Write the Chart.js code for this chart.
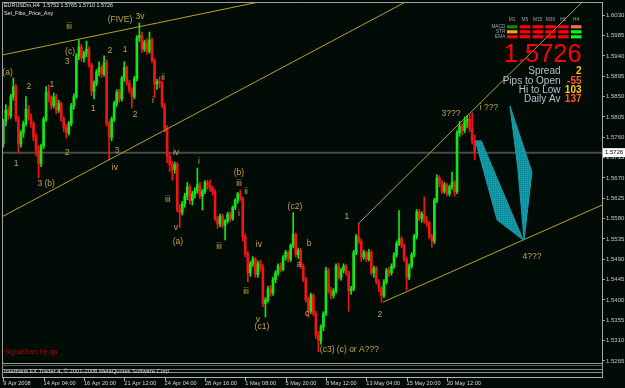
<!DOCTYPE html>
<html><head><meta charset="utf-8">
<script src="https://cdn.jsdelivr.net/npm/chart.js@4.4.1/dist/chart.umd.min.js"></script>
<style>html,body{margin:0;padding:0;background:#010b05;}canvas{display:block;}</style>
</head><body>
<canvas id="c" width="625" height="388"></canvas>
<script>
// ---- H4 candles, EURUSDm ----
const opens = [
1.5745,1.5795,1.5820,1.5808,1.5850,1.5872,1.5800,1.5745,1.5770,1.5790,
1.5822,1.5805,1.5790,1.5760,1.5730,1.5702,1.5740,1.5800,1.5860,1.5845,
1.5830,1.5850,1.5820,1.5835,1.5800,1.5780,1.5770,1.5790,1.5830,1.5850,
1.5940,1.5960,1.5935,1.5945,1.5955,1.5920,1.5862,1.5880,1.5905,1.5915,
1.5900,1.5925,1.5790,1.5760,1.5800,1.5835,1.5860,1.5845,1.5890,1.5915,
1.5880,1.5865,1.5850,1.5890,1.5980,1.5985,1.5955,1.5970,1.5950,1.5975,
1.5930,1.5878,1.5884,1.5880,1.5830,1.5780,1.5718,1.5700,1.5688,1.5700,
1.5600,1.5594,1.5612,1.5630,1.5650,1.5620,1.5635,1.5642,1.5655,1.5630,
1.5640,1.5660,1.5652,1.5648,1.5640,1.5580,1.5568,1.5585,1.5565,1.5575,
1.5590,1.5580,1.5605,1.5620,1.5635,1.5625,1.5540,1.5502,1.5460,1.5480,
1.5490,1.5456,1.5480,1.5472,1.5392,1.5400,1.5425,1.5415,1.5445,1.5460,
1.5475,1.5468,1.5495,1.5505,1.5490,1.5520,1.5545,1.5500,1.5510,1.5475,
1.5445,1.5400,1.5375,1.5410,1.5370,1.5322,1.5310,1.5340,1.5370,1.5465,
1.5420,1.5410,1.5420,1.5475,1.5450,1.5465,1.5475,1.5460,1.5420,1.5425,
1.5505,1.5540,1.5530,1.5495,1.5505,1.5490,1.5505,1.5460,1.5470,1.5440,
1.5425,1.5410,1.5440,1.5465,1.5460,1.5475,1.5500,1.5525,1.5535,1.5520,
1.5490,1.5450,1.5475,1.5500,1.5540,1.5595,1.5580,1.5590,1.5575,1.5570,
1.5540,1.5530,1.5620,1.5670,1.5660,1.5640,1.5655,1.5635,1.5650,1.5660,
1.5640,1.5770,1.5785,1.5775,1.5795,1.5800,1.5778,1.5752];
const highs = [
1.5800,1.5832,1.5828,1.5855,1.5891,1.5878,1.5806,1.5775,1.5796,1.5850,
1.5830,1.5812,1.5795,1.5768,1.5742,1.5745,1.5805,1.5872,1.5876,1.5852,
1.5858,1.5855,1.5842,1.5838,1.5806,1.5788,1.5795,1.5835,1.5856,1.5945,
1.5975,1.5966,1.5950,1.5973,1.5960,1.5924,1.5885,1.5910,1.5927,1.5920,
1.5940,1.5932,1.5796,1.5805,1.5840,1.5865,1.5866,1.5895,1.5927,1.5918,
1.5886,1.5870,1.5895,1.5985,1.6013,1.5992,1.5975,1.5978,1.5993,1.5980,
1.5934,1.5888,1.5894,1.5884,1.5835,1.5786,1.5724,1.5706,1.5705,1.5704,
1.5612,1.5618,1.5636,1.5660,1.5655,1.5640,1.5648,1.5692,1.5660,1.5645,
1.5664,1.5665,1.5666,1.5652,1.5644,1.5585,1.5590,1.5590,1.5578,1.5594,
1.5595,1.5608,1.5624,1.5638,1.5643,1.5628,1.5546,1.5508,1.5485,1.5496,
1.5494,1.5486,1.5488,1.5478,1.5405,1.5430,1.5432,1.5450,1.5465,1.5480,
1.5482,1.5498,1.5510,1.5508,1.5524,1.5593,1.5548,1.5515,1.5514,1.5480,
1.5450,1.5406,1.5415,1.5414,1.5375,1.5330,1.5345,1.5374,1.5472,1.5470,
1.5428,1.5425,1.5480,1.5482,1.5470,1.5480,1.5478,1.5464,1.5430,1.5510,
1.5545,1.5568,1.5535,1.5510,1.5508,1.5512,1.5510,1.5475,1.5474,1.5445,
1.5430,1.5445,1.5470,1.5472,1.5480,1.5505,1.5530,1.5598,1.5540,1.5524,
1.5495,1.5480,1.5505,1.5545,1.5600,1.5600,1.5595,1.5628,1.5585,1.5574,
1.5545,1.5625,1.5677,1.5675,1.5664,1.5660,1.5658,1.5654,1.5683,1.5664,
1.5775,1.5795,1.5790,1.5805,1.5808,1.5810,1.5814,1.5765];
const lows = [
1.5738,1.5785,1.5800,1.5802,1.5842,1.5795,1.5726,1.5738,1.5760,1.5785,
1.5798,1.5782,1.5752,1.5718,1.5670,1.5695,1.5735,1.5795,1.5838,1.5822,
1.5825,1.5812,1.5815,1.5795,1.5772,1.5758,1.5765,1.5785,1.5822,1.5846,
1.5932,1.5928,1.5926,1.5938,1.5915,1.5852,1.5845,1.5874,1.5896,1.5892,
1.5895,1.5785,1.5710,1.5752,1.5795,1.5828,1.5838,1.5840,1.5884,1.5875,
1.5858,1.5825,1.5845,1.5885,1.5972,1.5948,1.5950,1.5944,1.5946,1.5925,
1.5848,1.5866,1.5870,1.5825,1.5772,1.5703,1.5684,1.5665,1.5680,1.5595,
1.5560,1.5588,1.5605,1.5622,1.5612,1.5610,1.5625,1.5636,1.5624,1.5599,
1.5635,1.5645,1.5640,1.5632,1.5575,1.5558,1.5562,1.5560,1.5533,1.5570,
1.5574,1.5576,1.5600,1.5614,1.5620,1.5530,1.5495,1.5440,1.5452,1.5474,
1.5450,1.5450,1.5464,1.5385,1.5362,1.5395,1.5408,1.5410,1.5438,1.5454,
1.5462,1.5464,1.5488,1.5484,1.5485,1.5515,1.5495,1.5492,1.5470,1.5440,
1.5395,1.5362,1.5370,1.5365,1.5315,1.5285,1.5302,1.5332,1.5365,1.5415,
1.5402,1.5404,1.5415,1.5446,1.5444,1.5460,1.5455,1.5375,1.5412,1.5420,
1.5500,1.5525,1.5485,1.5490,1.5485,1.5486,1.5455,1.5450,1.5435,1.5418,
1.5395,1.5405,1.5435,1.5452,1.5455,1.5470,1.5495,1.5520,1.5515,1.5485,
1.5422,1.5445,1.5470,1.5495,1.5535,1.5575,1.5572,1.5570,1.5562,1.5535,
1.5517,1.5525,1.5615,1.5650,1.5635,1.5636,1.5630,1.5630,1.5645,1.5630,
1.5635,1.5762,1.5765,1.5770,1.5782,1.5772,1.5745,1.5710];
const closes = [
1.5795,1.5820,1.5808,1.5850,1.5872,1.5800,1.5745,1.5770,1.5790,1.5822,
1.5805,1.5790,1.5760,1.5730,1.5702,1.5740,1.5800,1.5860,1.5845,1.5830,
1.5850,1.5820,1.5835,1.5800,1.5780,1.5770,1.5790,1.5830,1.5850,1.5940,
1.5960,1.5935,1.5945,1.5955,1.5920,1.5862,1.5880,1.5905,1.5915,1.5900,
1.5925,1.5790,1.5760,1.5800,1.5835,1.5860,1.5845,1.5890,1.5915,1.5880,
1.5865,1.5850,1.5890,1.5980,1.5985,1.5955,1.5970,1.5950,1.5975,1.5930,
1.5878,1.5884,1.5880,1.5830,1.5780,1.5718,1.5700,1.5688,1.5700,1.5600,
1.5594,1.5612,1.5630,1.5650,1.5620,1.5635,1.5642,1.5655,1.5630,1.5640,
1.5660,1.5652,1.5648,1.5640,1.5580,1.5568,1.5585,1.5565,1.5575,1.5590,
1.5580,1.5605,1.5620,1.5635,1.5625,1.5540,1.5502,1.5460,1.5480,1.5490,
1.5456,1.5480,1.5472,1.5392,1.5400,1.5425,1.5415,1.5445,1.5460,1.5475,
1.5468,1.5495,1.5505,1.5490,1.5520,1.5545,1.5500,1.5510,1.5475,1.5445,
1.5400,1.5375,1.5410,1.5370,1.5322,1.5310,1.5340,1.5370,1.5465,1.5420,
1.5410,1.5420,1.5475,1.5450,1.5465,1.5475,1.5460,1.5420,1.5425,1.5505,
1.5540,1.5530,1.5495,1.5505,1.5490,1.5505,1.5460,1.5470,1.5440,1.5425,
1.5410,1.5440,1.5465,1.5460,1.5475,1.5500,1.5525,1.5535,1.5520,1.5490,
1.5450,1.5475,1.5500,1.5540,1.5595,1.5580,1.5590,1.5575,1.5570,1.5540,
1.5530,1.5620,1.5670,1.5660,1.5640,1.5655,1.5635,1.5650,1.5660,1.5640,
1.5770,1.5785,1.5775,1.5795,1.5800,1.5778,1.5752,1.5726];

// ---- axes ----
const tickIdx  = [0,16,32,48,64,80,96,112,128,144,160,176];
const tickText = ['9 Apr 2008','14 Apr 04:00','16 Apr 20:00','21 Apr 12:00','24 Apr 04:00','28 Apr 16:00','1 May 08:00','5 May 20:00','8 May 12:00','13 May 04:00','15 May 20:00','20 May 12:00'];
const yTicks = [1.6030,1.5985,1.5940,1.5895,1.5850,1.5805,1.5760,1.5715,1.5670,1.5625,1.5580,1.5535,1.5490,1.5445,1.5400,1.5355,1.5310,1.5265];

// ---- drawn objects (bar index, price) ----
const lineUpperLeft  = [[-0.5,1.5942],[101.05,1.6059]];
const lineLowerLeft  = [[-0.5,1.5584],[159.4,1.6059]];
const lineChannelTop = [[140.7,1.5568],[229.6,1.6059]];
const lineChannelBot = [[150.6,1.5395],[237.5,1.5610]];
const projDown = [[187.3,1.5752],[195.9,1.5577],[206.2,1.5533],[189.6,1.5752]];
const projUp   = [[201.0,1.5829],[209.7,1.5683],[206.6,1.5533],[204.1,1.5692]];

// ---- wave labels ----
const waveText = ['(a)','iii','(c)','3','2','1','(FIVE)','3v','2','1','1','2','ii','i','1','2','3','iv','3 (b)','iv','i','iii','v','(a)','(b)','iii','ii','i','iii','iv','(c2)','b','iii','v','(c1)','a','c','(c3) (c) or A???','2','4???','1','3???','i ???'];
const waveIdx = [1.7,26.1,26.5,25.3,10.2,19.3,46.3,54.2,42.3,48.3,35.6,52.3,63.4,59.4,5.1,25.3,45.1,44.3,17.0,68.5,77.6,65.3,68.5,69.3,93.5,93.5,96.3,93.5,85.6,101.4,115.7,121.3,96.3,101.0,102.6,117.3,120.5,137.3,149.4,209.7,136.3,177.6,192.7];
const wavePrice = [1.5902,1.6004,1.5949,1.5927,1.5871,1.5876,1.6020,1.6028,1.5951,1.5953,1.5823,1.5809,1.5893,1.5840,1.5701,1.5727,1.5730,1.5692,1.5657,1.5725,1.5707,1.5623,1.5559,1.5530,1.5681,1.5657,1.5639,1.5592,1.5519,1.5522,1.5606,1.5524,1.5418,1.5356,1.5340,1.5477,1.5369,1.5289,1.5367,1.5495,1.5584,1.5812,1.5825];

// ---- signal panel ----
const sigCols = ['M1','M5','M15','M30','H1','H4'];
const sigRows = ['MACD','STR','EMA'];
const sigColors = [
  ['#008a00','#ff0000','#ff0000','#ff0000','#ff0000','#ff6a5a'],
  ['#ffa500','#ff0000','#ff0000','#ff0000','#ff0000','#00ff00'],
  ['#ff0000','#ff0000','#ff0000','#ff0000','#ff0000','#00ff00']];
const statLabels = ['Spread','Pips to Open','Hi to Low','Daily Av'];
const statValues = ['2','-55','103','137'];
const statColors = ['#ffcc00','#ff5a1e','#ffd000','#ff5a1e'];

const BG = '#010b05', BULL = '#14e614', BEAR = '#f01414';
const TREND = '#b8a420', WAVE = '#c8a638', TEAL = '#0f9eae';
const Y_MIN = 1.52604, Y_MAX = 1.60594, X_MIN = -0.5, X_MAX = 237.5;
const FONT = '"Liberation Sans", Arial, sans-serif';
Chart.defaults.font.family = FONT;

const N = closes.length;
const last = N - 1;
const colors = closes.map((c, i) => c >= opens[i] ? BULL : BEAR);
const pts = arr => arr.map(p => ({x: p[0], y: p[1]}));
const closed = arr => pts(arr.concat([arr[0]]));

function tealPattern() {
  const c = document.createElement('canvas'); c.width = 2; c.height = 2;
  const g = c.getContext('2d');
  g.fillStyle = TEAL; g.fillRect(0, 0, 2, 2);
  g.fillStyle = '#0c7f8c'; g.fillRect(0, 0, 1, 1);
  return g.createPattern(c, 'repeat');
}
const pat = tealPattern();

const lineDs = (arr) => ({type: 'line', data: pts(arr), borderColor: TREND, borderWidth: 1, pointRadius: 0, fill: false, order: 0});
const polyDs = (arr) => ({type: 'line', data: closed(arr), borderColor: TEAL, backgroundColor: pat, borderWidth: 1, pointRadius: 0, fill: 'shape', order: 0});

const deco = {
  id: 'deco',
  beforeDraw(chart) {
    const {ctx, width, height} = chart;
    ctx.save(); ctx.fillStyle = BG; ctx.fillRect(0, 0, width, height); ctx.restore();
  },
  afterDatasetsDraw(chart) {
    const {ctx, scales: {x, y}, chartArea: a} = chart;
    ctx.save();
    ctx.beginPath(); ctx.rect(a.left, a.top, a.right - a.left, a.bottom - a.top); ctx.clip();
    ctx.font = '8.5px ' + FONT; ctx.fillStyle = WAVE;
    ctx.textAlign = 'center'; ctx.textBaseline = 'middle';
    waveText.forEach((t, i) => ctx.fillText(t, x.getPixelForValue(waveIdx[i]), y.getPixelForValue(wavePrice[i])));
    ctx.restore();
  },
  afterDraw(chart) {
    const {ctx, scales: {x, y}, chartArea: a} = chart;
    ctx.save();
    // frame
    ctx.strokeStyle = '#a0a0a0'; ctx.lineWidth = 1;
    ctx.beginPath();
    ctx.moveTo(a.left + 0.5, a.top + 0.5); ctx.lineTo(a.right, a.top + 0.5);
    ctx.moveTo(a.left + 0.5, a.top); ctx.lineTo(a.left + 0.5, a.bottom + 14.5);
    ctx.moveTo(a.right + 0.5, a.bottom); ctx.lineTo(a.right + 0.5, a.bottom + 14.5);
    ctx.stroke();
    // small indicator window under the chart
    const b = a.bottom;
    ctx.fillStyle = '#9a9a9a'; ctx.fillRect(a.left, b, a.right - a.left, 1);
    ctx.fillStyle = '#5c5c5c'; ctx.fillRect(a.left, b + 2, a.right - a.left, 1);
    ctx.fillStyle = '#7a7a7a'; ctx.fillRect(a.left, b + 6, a.right - a.left, 1);
    ctx.fillStyle = '#8c8c8c'; ctx.fillRect(a.left, b + 9, a.right - a.left, 1);
    ctx.fillStyle = '#b0b0b0'; ctx.fillRect(a.left, b + 14, a.right - a.left + 1, 1);
    // x tick marks
    ctx.strokeStyle = '#b0b0b0'; ctx.beginPath();
    tickIdx.forEach(t => { const px = Math.round(x.getPixelForValue(t)) + 0.5; ctx.moveTo(px, b + 14); ctx.lineTo(px, b + 18); });
    ctx.stroke();
    ctx.font = '5.8px ' + FONT; ctx.fillStyle = '#dcdcdc'; ctx.textAlign = 'left'; ctx.textBaseline = 'middle';
    ctx.fillText('Interbank FX Trader 4, \u00a9 2001-2008 MetaQuotes Software Corp.', a.left + 2, b + 8);
    // Signal bars credit
    ctx.font = '6.5px ' + FONT; ctx.fillStyle = '#b80000';
    ctx.fillText('Signal Bars by cja', a.left + 3, b - 11);
    // header text
    ctx.font = '5.4px ' + FONT; ctx.fillStyle = '#e6e6e6';
    ctx.fillText('EURUSDm,H4  ' + [opens[last], highs[last], lows[last], closes[last]].map(v => v.toFixed(4)).join(' '), a.left + 2, 6);
    ctx.fillText('Set_Fibo_Price_Any', a.left + 2, 13.5);
    // current price label
    const py = y.getPixelForValue(closes[last]);
    ctx.fillStyle = '#ffffff'; ctx.fillRect(a.right + 1, py - 4.5, 22, 9);
    ctx.fillStyle = '#000000'; ctx.font = '6px ' + FONT;
    ctx.fillText(closes[last].toFixed(4), a.right + 3, py);
    // signal matrix
    ctx.font = '4.8px ' + FONT; ctx.fillStyle = '#9aa2ae'; ctx.textAlign = 'center';
    sigCols.forEach((c, j) => ctx.fillText(c, 512 + j * 12.8, 19.5));
    ctx.textAlign = 'right';
    sigRows.forEach((r, i) => {
      ctx.fillStyle = '#9aa2ae'; ctx.fillText(r, 505.5, 26.8 + i * 5);
      sigColors[i].forEach((col, j) => { ctx.fillStyle = col; ctx.fillRect(507 + j * 12.8, 25.2 + i * 5, 10.4, 3.2); });
    });
    // big price
    ctx.font = '25.5px ' + FONT; ctx.fillStyle = '#ff0000'; ctx.textBaseline = 'alphabetic';
    ctx.fillText(closes[last].toFixed(4), 581.7, 61.8);
    // stats
    statLabels.forEach((s, i) => {
      const by = 74.2 + i * 9.35;
      ctx.font = '10px ' + FONT; ctx.fillStyle = '#b8c0cc'; ctx.fillText(s, 560.5, by);
      ctx.font = 'bold 10px ' + FONT; ctx.fillStyle = statColors[i]; ctx.fillText(statValues[i], 581.5, by);
    });
    ctx.restore();
  }
};

new Chart(document.getElementById('c'), {
  type: 'bar',
  data: {
    datasets: [
      polyDs(projDown), polyDs(projUp),
      lineDs(lineUpperLeft), lineDs(lineLowerLeft), lineDs(lineChannelTop), lineDs(lineChannelBot),
      {type: 'bar', data: closes.map((c, i) => ({x: i, y: [lows[i], highs[i]]})), backgroundColor: colors, barThickness: 1, grouped: false, order: 2},
      {type: 'bar', data: closes.map((c, i) => ({x: i, y: [opens[i], c]})), backgroundColor: colors, barThickness: 2, minBarLength: 1, grouped: false, order: 1},
      {type: 'line', data: [{x: X_MIN, y: closes[last]}, {x: X_MAX, y: closes[last]}], borderColor: '#4a4a4a', borderWidth: 2, pointRadius: 0, fill: false, order: 5}
    ]
  },
  options: {
    responsive: false, animation: false, events: [],
    layout: {padding: {left: 2, top: 2, right: 0, bottom: 0}},
    plugins: {legend: {display: false}, tooltip: {enabled: false}},
    scales: {
      x: {
        type: 'linear', min: X_MIN, max: X_MAX, offset: false, position: 'bottom',
        grid: {display: false, drawTicks: false}, border: {display: false},
        afterBuildTicks: s => { s.ticks = tickIdx.map(v => ({value: v})); },
        afterFit: s => { s.height = 25; s.paddingLeft = 0; s.paddingRight = 0; },
        ticks: {autoSkip: false, maxRotation: 0, minRotation: 0, align: 'start', padding: 16.6,
                color: '#d6d6d6', font: {size: 5.6}, callback: (v, i) => tickText[i]}
      },
      y: {
        type: 'linear', position: 'right', min: Y_MIN, max: Y_MAX,
        grid: {drawOnChartArea: false, drawTicks: true, tickLength: 3, color: '#a0a0a0'},
        border: {display: true, color: '#a8a8a8'},
        afterBuildTicks: s => { s.ticks = yTicks.map(v => ({value: v})); },
        afterFit: s => { s.width = 23; s.paddingTop = 0; s.paddingBottom = 0; },
        ticks: {autoSkip: false, padding: 1, color: '#c8c8c8', font: {size: 6}, callback: v => v.toFixed(4)}
      }
    }
  },
  plugins: [deco]
});
</script>
</body></html>
